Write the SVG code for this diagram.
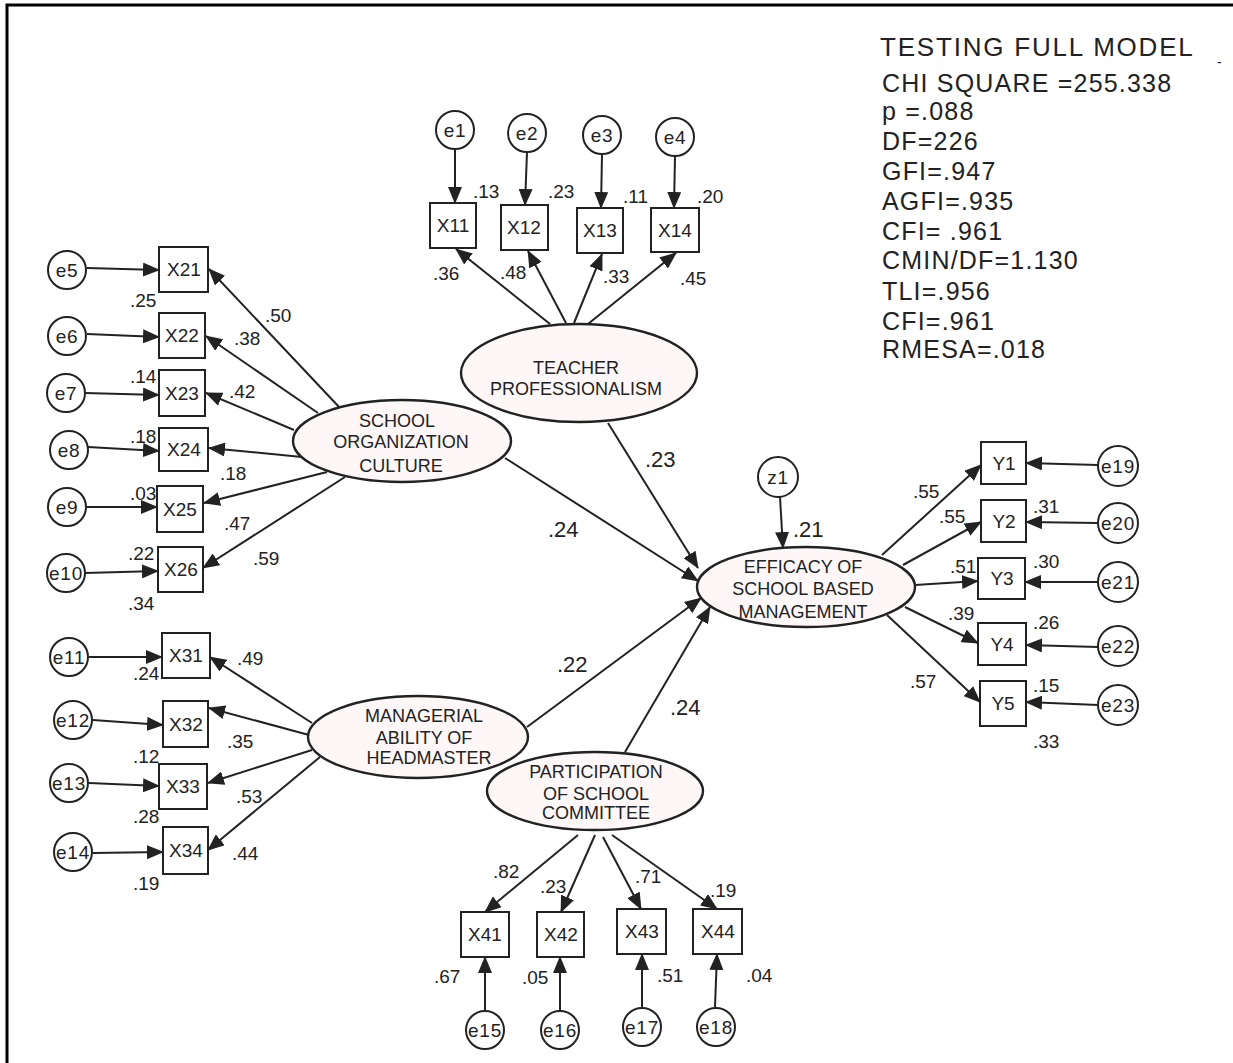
<svg xmlns="http://www.w3.org/2000/svg" width="1233" height="1063" viewBox="0 0 1233 1063">
<defs>
<marker id="ah" markerWidth="17" markerHeight="14" refX="16" refY="7" orient="auto" markerUnits="userSpaceOnUse"><path d="M0,0 L17,7 L0,14 z" fill="#222"/></marker>
<style>
.c{fill:#fff;stroke:#222;stroke-width:2}
.b{fill:#fff;stroke:#222;stroke-width:2}
.el{fill:#fdf8f7;stroke:#222;stroke-width:2.4}
.t{font-family:"Liberation Sans",Arial,sans-serif;fill:#222}
.ct{font-size:19px;text-anchor:middle;letter-spacing:0.8px}
.bt{font-size:19px;text-anchor:middle}
.et{font-size:18px;text-anchor:middle}
.lb{font-size:19px}
.big{font-size:22px}
.st{font-size:25px;letter-spacing:1.2px}
#conn line{stroke:#222;stroke-width:2;marker-end:url(#ah)}
</style>
</defs>
<rect width="1233" height="1063" fill="#fff"/>
<path d="M7,1063 V5 H1233" fill="none" stroke="#000" stroke-width="3"/>

<g id="conn">
<line x1="455" y1="149" x2="455" y2="203"/>
<line x1="527" y1="152" x2="525" y2="205"/>
<line x1="602" y1="154" x2="601" y2="208"/>
<line x1="675" y1="156" x2="674" y2="208"/>
<line x1="550" y1="324" x2="456" y2="249"/>
<line x1="566" y1="323" x2="528" y2="251"/>
<line x1="574" y1="323" x2="602" y2="254"/>
<line x1="588" y1="324" x2="676" y2="253"/>
<line x1="87" y1="268" x2="159" y2="270"/>
<line x1="87" y1="334" x2="159" y2="337"/>
<line x1="85" y1="393" x2="159" y2="395"/>
<line x1="88" y1="447" x2="159" y2="451"/>
<line x1="87" y1="507" x2="157" y2="507"/>
<line x1="85" y1="573" x2="158" y2="571"/>
<line x1="340" y1="408" x2="209" y2="269"/>
<line x1="318" y1="413" x2="206" y2="336"/>
<line x1="294" y1="430" x2="206" y2="393"/>
<line x1="302" y1="457" x2="209" y2="448"/>
<line x1="327" y1="472" x2="204" y2="503"/>
<line x1="345" y1="477" x2="203" y2="568"/>
<line x1="89" y1="657" x2="162" y2="657"/>
<line x1="93" y1="720" x2="163" y2="725"/>
<line x1="89" y1="783" x2="159" y2="786"/>
<line x1="93" y1="853" x2="163" y2="852"/>
<line x1="312" y1="723" x2="210" y2="657"/>
<line x1="309" y1="735" x2="209" y2="708"/>
<line x1="312" y1="750" x2="208" y2="783"/>
<line x1="320" y1="757" x2="208" y2="850"/>
<line x1="578" y1="835" x2="485" y2="912"/>
<line x1="595" y1="835" x2="561" y2="912"/>
<line x1="603" y1="837" x2="641" y2="909"/>
<line x1="612" y1="835" x2="717" y2="909"/>
<line x1="485" y1="1010" x2="485" y2="957"/>
<line x1="560" y1="1010" x2="560" y2="957"/>
<line x1="642" y1="1007" x2="642" y2="954"/>
<line x1="715" y1="1007" x2="717" y2="954"/>
<line x1="882" y1="555" x2="981" y2="465"/>
<line x1="903" y1="565" x2="981" y2="522"/>
<line x1="915" y1="585" x2="978" y2="581"/>
<line x1="905" y1="607" x2="978" y2="643"/>
<line x1="887" y1="615" x2="980" y2="702"/>
<line x1="1098" y1="465" x2="1026" y2="463"/>
<line x1="1098" y1="523" x2="1026" y2="522"/>
<line x1="1098" y1="582" x2="1025" y2="582"/>
<line x1="1098" y1="647" x2="1026" y2="645"/>
<line x1="1098" y1="705" x2="1026" y2="702"/>
<line x1="780" y1="497" x2="783" y2="548"/>
<line x1="608" y1="423" x2="698" y2="568"/>
<line x1="505" y1="458" x2="698" y2="581"/>
<line x1="527" y1="727" x2="701" y2="598"/>
<line x1="625" y1="752" x2="710" y2="607"/>
</g>

<g id="teacher"><ellipse class="el" cx="579" cy="373" rx="118" ry="49"/><text class="t et" x="576" y="374">TEACHER</text><text class="t et" x="576" y="395">PROFESSIONALISM</text></g>
<g id="school"><ellipse class="el" cx="402" cy="441" rx="109" ry="41"/><text class="t et" x="397" y="427">SCHOOL</text><text class="t et" x="401" y="448">ORGANIZATION</text><text class="t et" x="401" y="472">CULTURE</text></g>
<g id="efficacy"><ellipse class="el" cx="806" cy="587" rx="109" ry="40"/><text class="t et" x="803" y="573">EFFICACY OF</text><text class="t et" x="803" y="595">SCHOOL BASED</text><text class="t et" x="803" y="618">MANAGEMENT</text></g>
<g id="managerial"><ellipse class="el" cx="418" cy="737" rx="110" ry="41"/><text class="t et" x="424" y="722">MANAGERIAL</text><text class="t et" x="424" y="744">ABILITY OF</text><text class="t et" x="429" y="764">HEADMASTER</text></g>
<g id="participation"><ellipse class="el" cx="595" cy="791" rx="108" ry="39"/><text class="t et" x="596" y="778">PARTICIPATION</text><text class="t et" x="596" y="800">OF SCHOOL</text><text class="t et" x="596" y="819">COMMITTEE</text></g>

<g id="e1"><circle class="c" cx="455" cy="130" r="19"/><text class="t ct" x="455" y="137">e1</text></g>
<g id="e2"><circle class="c" cx="527" cy="133" r="19"/><text class="t ct" x="527" y="140">e2</text></g>
<g id="e3"><circle class="c" cx="602" cy="135" r="19"/><text class="t ct" x="602" y="142">e3</text></g>
<g id="e4"><circle class="c" cx="675" cy="137" r="19"/><text class="t ct" x="675" y="144">e4</text></g>
<g id="e5"><circle class="c" cx="67" cy="270" r="19"/><text class="t ct" x="67" y="277">e5</text></g>
<g id="e6"><circle class="c" cx="67" cy="336" r="19"/><text class="t ct" x="67" y="343">e6</text></g>
<g id="e7"><circle class="c" cx="66" cy="393" r="19"/><text class="t ct" x="66" y="400">e7</text></g>
<g id="e8"><circle class="c" cx="69" cy="450" r="19"/><text class="t ct" x="69" y="457">e8</text></g>
<g id="e9"><circle class="c" cx="67" cy="507" r="19"/><text class="t ct" x="67" y="514">e9</text></g>
<g id="e10"><circle class="c" cx="66" cy="573" r="19"/><text class="t ct" x="66" y="580">e10</text></g>
<g id="e11"><circle class="c" cx="69" cy="657" r="19"/><text class="t ct" x="69" y="664">e11</text></g>
<g id="e12"><circle class="c" cx="73" cy="720" r="19"/><text class="t ct" x="73" y="727">e12</text></g>
<g id="e13"><circle class="c" cx="69" cy="783" r="19"/><text class="t ct" x="69" y="790">e13</text></g>
<g id="e14"><circle class="c" cx="73" cy="852" r="19"/><text class="t ct" x="73" y="859">e14</text></g>
<g id="e15"><circle class="c" cx="485" cy="1030" r="19"/><text class="t ct" x="485" y="1037">e15</text></g>
<g id="e16"><circle class="c" cx="560" cy="1030" r="19"/><text class="t ct" x="560" y="1037">e16</text></g>
<g id="e17"><circle class="c" cx="642" cy="1027" r="19"/><text class="t ct" x="642" y="1034">e17</text></g>
<g id="e18"><circle class="c" cx="716" cy="1027" r="19"/><text class="t ct" x="716" y="1034">e18</text></g>
<g id="e19"><circle class="c" cx="1118" cy="466" r="20"/><text class="t ct" x="1118" y="473">e19</text></g>
<g id="e20"><circle class="c" cx="1118" cy="523" r="20"/><text class="t ct" x="1118" y="530">e20</text></g>
<g id="e21"><circle class="c" cx="1118" cy="582" r="20"/><text class="t ct" x="1118" y="589">e21</text></g>
<g id="e22"><circle class="c" cx="1118" cy="646" r="20"/><text class="t ct" x="1118" y="653">e22</text></g>
<g id="e23"><circle class="c" cx="1118" cy="705" r="20"/><text class="t ct" x="1118" y="712">e23</text></g>
<g id="z1"><circle class="c" cx="778" cy="477" r="20"/><text class="t ct" x="778" y="484">z1</text></g>

<g id="X11"><rect class="b" x="430" y="203" width="46" height="45"/><text class="t bt" x="453" y="232">X11</text></g>
<g id="X12"><rect class="b" x="501" y="205" width="47" height="45"/><text class="t bt" x="524" y="234">X12</text></g>
<g id="X13"><rect class="b" x="577" y="208" width="46" height="45"/><text class="t bt" x="600" y="237">X13</text></g>
<g id="X14"><rect class="b" x="651" y="208" width="48" height="44"/><text class="t bt" x="675" y="237">X14</text></g>
<g id="X21"><rect class="b" x="159" y="247" width="49" height="45"/><text class="t bt" x="184" y="276">X21</text></g>
<g id="X22"><rect class="b" x="159" y="313" width="46" height="45"/><text class="t bt" x="182" y="342">X22</text></g>
<g id="X23"><rect class="b" x="159" y="370" width="46" height="46"/><text class="t bt" x="182" y="400">X23</text></g>
<g id="X24"><rect class="b" x="159" y="428" width="49" height="43"/><text class="t bt" x="184" y="456">X24</text></g>
<g id="X25"><rect class="b" x="157" y="486" width="46" height="46"/><text class="t bt" x="180" y="516">X25</text></g>
<g id="X26"><rect class="b" x="158" y="547" width="45" height="45"/><text class="t bt" x="181" y="576">X26</text></g>
<g id="X31"><rect class="b" x="162" y="633" width="48" height="45"/><text class="t bt" x="186" y="662">X31</text></g>
<g id="X32"><rect class="b" x="163" y="701" width="45" height="46"/><text class="t bt" x="186" y="731">X32</text></g>
<g id="X33"><rect class="b" x="159" y="764" width="48" height="45"/><text class="t bt" x="183" y="793">X33</text></g>
<g id="X34"><rect class="b" x="163" y="827" width="45" height="47"/><text class="t bt" x="186" y="857">X34</text></g>
<g id="X41"><rect class="b" x="461" y="912" width="48" height="45"/><text class="t bt" x="485" y="941">X41</text></g>
<g id="X42"><rect class="b" x="537" y="912" width="47" height="45"/><text class="t bt" x="561" y="941">X42</text></g>
<g id="X43"><rect class="b" x="617" y="909" width="49" height="45"/><text class="t bt" x="642" y="938">X43</text></g>
<g id="X44"><rect class="b" x="693" y="909" width="49" height="45"/><text class="t bt" x="718" y="938">X44</text></g>
<g id="Y1"><rect class="b" x="981" y="442" width="45" height="42"/><text class="t bt" x="1004" y="470">Y1</text></g>
<g id="Y2"><rect class="b" x="981" y="500" width="45" height="42"/><text class="t bt" x="1004" y="528">Y2</text></g>
<g id="Y3"><rect class="b" x="978" y="558" width="47" height="41"/><text class="t bt" x="1002" y="585">Y3</text></g>
<g id="Y4"><rect class="b" x="978" y="623" width="48" height="42"/><text class="t bt" x="1002" y="651">Y4</text></g>
<g id="Y5"><rect class="b" x="980" y="681" width="46" height="45"/><text class="t bt" x="1003" y="710">Y5</text></g>

<g id="labels">
<text class="t lb" x="473" y="198">.13</text>
<text class="t lb" x="548" y="198">.23</text>
<text class="t lb" x="623" y="203">.11</text>
<text class="t lb" x="697" y="203">.20</text>
<text class="t lb" x="433" y="280">.36</text>
<text class="t lb" x="500" y="279">.48</text>
<text class="t lb" x="603" y="283">.33</text>
<text class="t lb" x="680" y="285">.45</text>
<text class="t lb" x="130" y="307">.25</text>
<text class="t lb" x="265" y="322">.50</text>
<text class="t lb" x="234" y="345">.38</text>
<text class="t lb" x="130" y="383">.14</text>
<text class="t lb" x="229" y="398">.42</text>
<text class="t lb" x="130" y="443">.18</text>
<text class="t lb" x="220" y="480">.18</text>
<text class="t lb" x="130" y="500">.03</text>
<text class="t lb" x="224" y="530">.47</text>
<text class="t lb" x="128" y="560">.22</text>
<text class="t lb" x="253" y="565">.59</text>
<text class="t lb" x="128" y="610">.34</text>
<text class="t lb" x="237" y="665">.49</text>
<text class="t lb" x="133" y="680">.24</text>
<text class="t lb" x="227" y="748">.35</text>
<text class="t lb" x="133" y="763">.12</text>
<text class="t lb" x="236" y="803">.53</text>
<text class="t lb" x="133" y="823">.28</text>
<text class="t lb" x="232" y="860">.44</text>
<text class="t lb" x="133" y="890">.19</text>
<text class="t lb" x="493" y="878">.82</text>
<text class="t lb" x="540" y="893">.23</text>
<text class="t lb" x="635" y="883">.71</text>
<text class="t lb" x="710" y="897">.19</text>
<text class="t lb" x="434" y="983">.67</text>
<text class="t lb" x="522" y="984">.05</text>
<text class="t lb" x="657" y="982">.51</text>
<text class="t lb" x="746" y="982">.04</text>
<text class="t lb" x="913" y="498">.55</text>
<text class="t lb" x="939" y="523">.55</text>
<text class="t lb" x="1033" y="513">.31</text>
<text class="t lb" x="950" y="573">.51</text>
<text class="t lb" x="1033" y="568">.30</text>
<text class="t lb" x="948" y="620">.39</text>
<text class="t lb" x="1033" y="629">.26</text>
<text class="t lb" x="910" y="688">.57</text>
<text class="t lb" x="1033" y="692">.15</text>
<text class="t lb" x="1033" y="748">.33</text>
<text class="t big" x="793" y="537">.21</text>
<text class="t big" x="548" y="537">.24</text>
<text class="t big" x="645" y="467">.23</text>
<text class="t big" x="557" y="672">.22</text>
<text class="t big" x="670" y="715">.24</text>
</g>

<g id="stats">
<text class="t st" x="880" y="56" style="font-size:26px;letter-spacing:1.8px">TESTING FULL MODEL</text>
<text class="t st" x="882" y="92">CHI SQUARE =255.338</text>
<text class="t st" x="882" y="120">p =.088</text>
<text class="t st" x="882" y="150">DF=226</text>
<text class="t st" x="882" y="180">GFI=.947</text>
<text class="t st" x="882" y="210">AGFI=.935</text>
<text class="t st" x="882" y="240">CFI= .961</text>
<text class="t st" x="882" y="269">CMIN/DF=1.130</text>
<text class="t st" x="882" y="300">TLI=.956</text>
<text class="t st" x="882" y="330">CFI=.961</text>
<text class="t st" x="882" y="358">RMESA=.018</text>
<text class="t" x="1217" y="67" style="font-size:14px">-</text>
</g>
</svg>
